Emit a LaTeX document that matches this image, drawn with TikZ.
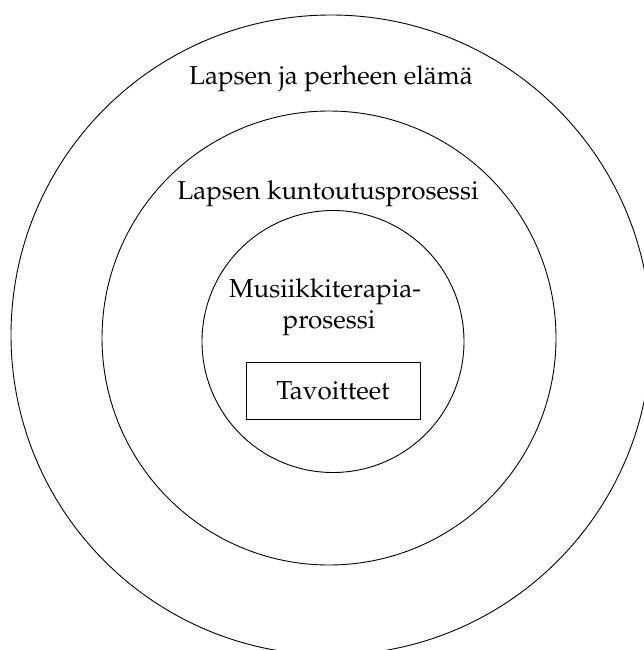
\documentclass[tikz,border=0pt]{standalone}
\usepackage[T1]{fontenc}
\usepackage{mathpazo}
\begin{document}
\begin{tikzpicture}[x=1pt,y=-1pt,
  ring/.style={draw, circle, inner sep=0pt, line width=0.9pt},
  ringtext/.style={font=\fontsize{26}{31}\selectfont, anchor=base, inner sep=0pt},
  goalbox/.style={draw, line width=0.9pt, font=\fontsize{26}{31}\selectfont,
    minimum width=174pt, minimum height=57pt, inner sep=0pt}]
\useasboundingbox (0,0) rectangle (643,650);
% three nested spheres of the child's life
\node[ring, minimum size=640pt] (life) at (331,335) {};
\node[ring, minimum size=454pt] (rehab) at (329,338) {};
\node[ring, minimum size=262pt] (therapy) at (333,341.5) {};
% titles of the spheres
\node[ringtext] (lifetext) at (331,85) {Lapsen ja perheen el\"am\"a};
\node[ringtext] (rehabtext) at (328,199.5) {Lapsen kuntoutusprosessi};
\node[ringtext] (therapytext) at (325,297) {Musiikkiterapia-};
\node[ringtext] (therapytext2) at (329,328) {prosessi};
% goals at the core
\node[goalbox] (goals) at (333,390.5) {Tavoitteet};
\end{tikzpicture}
\end{document}
